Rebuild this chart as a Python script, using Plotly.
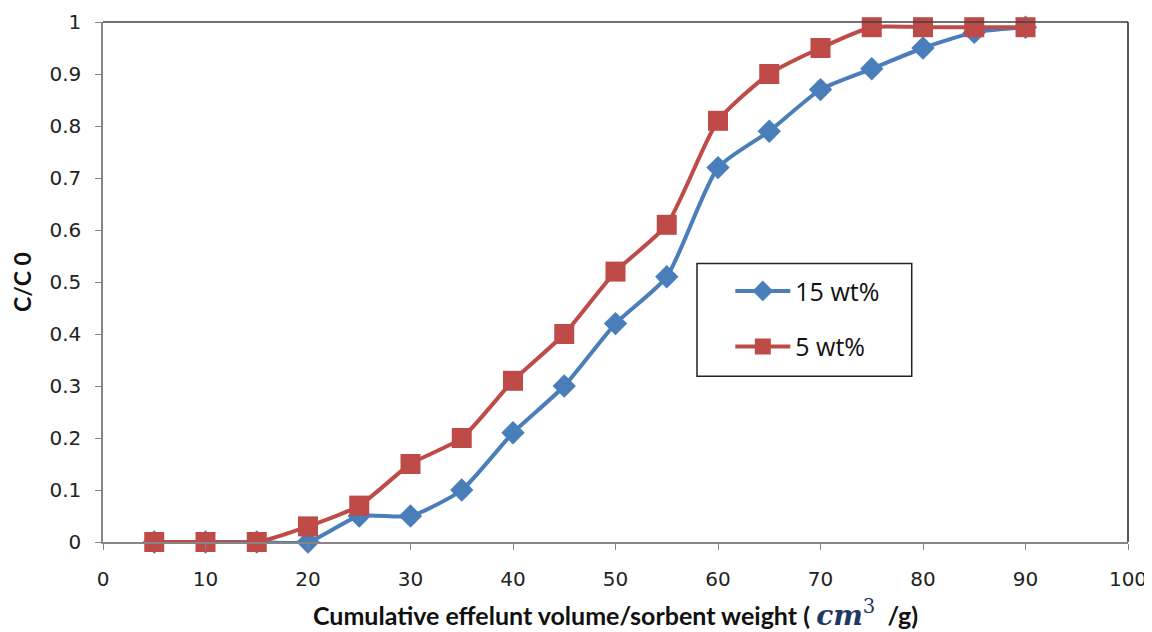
import plotly.graph_objects as go

x_vals = [5, 10, 15, 20, 25, 30, 35, 40, 45, 50, 55, 60, 65, 70, 75, 80, 85, 90]
y_15wt = [0, 0, 0, 0, 0.05, 0.05, 0.10, 0.21, 0.30, 0.42, 0.51, 0.72, 0.79, 0.87, 0.91, 0.95, 0.98, 0.99]
y_5wt = [0, 0, 0, 0.03, 0.07, 0.15, 0.20, 0.31, 0.40, 0.52, 0.61, 0.81, 0.90, 0.95, 0.99, 0.99, 0.99, 0.99]
x_ticks = [0, 10, 20, 30, 40, 50, 60, 70, 80, 90, 100]
y_ticks = [0, 0.1, 0.2, 0.3, 0.4, 0.5, 0.6, 0.7, 0.8, 0.9, 1]

blue = "#4A7EBB"
red = "#BE4B48"

fig = go.Figure()
fig.add_trace(go.Scatter(
    x=x_vals, y=y_15wt, name="15 wt%", mode="lines+markers", legendgroup="a",
    line=dict(color=blue, width=4, shape="spline", smoothing=0.6),
    marker=dict(symbol="diamond", size=18, color=blue),
    cliponaxis=False,
))
fig.add_trace(go.Scatter(
    x=x_vals, y=y_5wt, name="5 wt%", mode="lines+markers", legendgroup="b",
    line=dict(color=red, width=4, shape="spline", smoothing=0.6),
    marker=dict(symbol="square", size=20, color=red),
    cliponaxis=False,
))

tick_font = dict(family="DejaVu Sans", size=20, color="#222222")

# page body has an 8px default margin, so the figure is sized/offset to compensate
fig.update_layout(
    width=1144, height=624,
    margin=dict(l=95, r=24, t=14, b=90, autoexpand=False),
    paper_bgcolor="white", plot_bgcolor="white",
    showlegend=True,
    legend=dict(
        x=0.612, y=0.5265, xanchor="left", yanchor="top",
        bgcolor="rgba(0,0,0,0)", borderwidth=0,
        font=dict(family="Open Sans", size=25, color="#111111"),
        itemwidth=55, tracegroupgap=20,
    ),
    xaxis=dict(
        range=[0, 100], tickvals=x_ticks, ticktext=[str(v) for v in x_ticks],
        showgrid=False, zeroline=False, automargin=False,
        showline=True, linecolor="#868686", linewidth=1.5,
        ticks="outside", ticklen=6, tickcolor="#868686",
        tickfont=tick_font, ticklabelstandoff=12,
        title=dict(
            text="<b>Cumulative effelunt volume/sorbent weight ( </b>"
                 "<span style='font-family:DejaVu Serif;font-size:28px;color:#1F3864'><i><b>cm</b></i><sup>3</sup></span>"
                 "<b>  /g)</b>",
            font=dict(family="Lato", size=25, color="#111111"),
            standoff=18,
        ),
    ),
    yaxis=dict(
        range=[0, 1], tickvals=y_ticks, ticktext=[f"{v:g}" for v in y_ticks],
        showgrid=False, zeroline=False, automargin=False,
        showline=True, linecolor="#868686", linewidth=1.5,
        ticks="outside", ticklen=6, tickcolor="#868686",
        tickfont=tick_font, ticklabelstandoff=10,
        title=dict(text="<b>C/C 0</b>", font=dict(family="Lato", size=23, color="#111111"), standoff=22),
    ),
)

# plot-area border on top and right
fig.add_shape(type="line", xref="paper", yref="paper", x0=0, x1=1, y0=1, y1=1,
              line=dict(color="#404040", width=1.5))
fig.add_shape(type="line", xref="paper", yref="paper", x0=1, x1=1, y0=0, y1=1,
              line=dict(color="#202020", width=1.5))
# legend frame
fig.add_shape(type="rect", xref="paper", yref="paper", x0=0.5795, x1=0.789, y0=0.3186, y1=0.5355,
              line=dict(color="#222222", width=1.5), fillcolor="white", layer="below")

fig.write_html("out.html")
